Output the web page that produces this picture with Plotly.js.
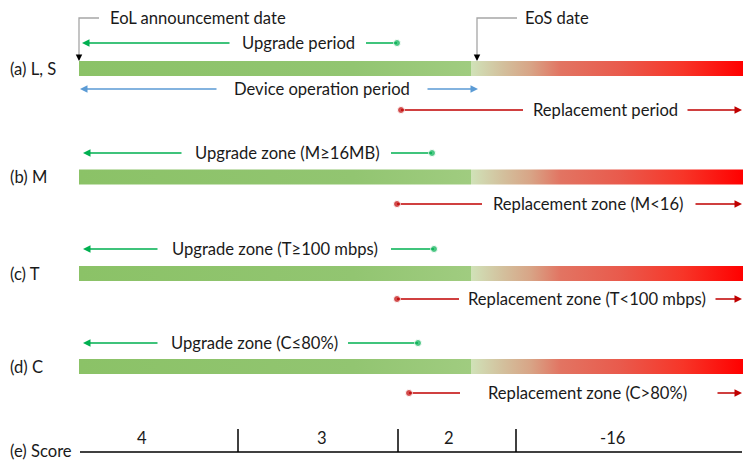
<!DOCTYPE html>
<html>
<head>
<meta charset="utf-8">
<script src="https://cdn.plot.ly/plotly-3.0.1.min.js"></script>
<style>html,body{margin:0;padding:0;background:#fff}#chart{width:756px;height:469px}</style>
</head>
<body>
<div id="chart"></div>
<script>
// ---- Data (timeline positions, in chart units) ----
const rowLabels = ['(a) L, S', '(b) M', '(c) T', '(d) C'];
const rowCenters = [68.5, 177, 273.5, 366.5];
const timelineStart = 79;   // EoL announcement date
const eosPoint = 471;       // EoS date
const timelineEnd = 743;

const upgradeLabels = ['Upgrade period', 'Upgrade zone (M≥16MB)', 'Upgrade zone (T≥100 mbps)', 'Upgrade zone (C≤80%)'];
const upgradeLevel = [43, 153, 249, 343];
const upgradeLeftTail = [231, 183, 159, 159];
const upgradeArrowTip = [82, 83, 83, 83];
const upgradeRightStart = [366, 391, 391, 348];
const upgradeDot = [397, 432, 434, 418];
const upgradeTextCenter = [298, 287, 275, 254.5];

const replaceLabels = ['Replacement period', 'Replacement zone (M<16)', 'Replacement zone (T<100 mbps)', 'Replacement zone (C>80%)'];
const replaceLevel = [110, 204, 299, 393];
const replaceDot = [401, 397, 397, 409];
const replaceLineEnd = [523, 482, 459, 460];
const replaceArrowTail = [686, 694, 714, 716];
const replaceArrowTip = [742, 742, 742, 742];
const replaceTextCenter = [605, 588, 586.5, 587.5];

const deviceLabel = 'Device operation period';
const deviceLevel = 89;
const deviceLeft = [218, 80];
const deviceRight = [426, 478];
const deviceTextCenter = 321.5;

const eolLabel = 'EoL announcement date';
const eosLabel = 'EoS date';
const calloutLevel = 18;

const scoreTitle = '(e) Score';
const scoreLabels = ['4', '3', '2', '-16'];
const scoreLabelPos = [142, 322, 449, 612];
const scoreBreaks = [238, 398, 516];
const scoreLine = [80, 742];
const scoreLevel = 452;
const scoreTickTop = 429;

// ---- Styles ----
const FONT = 'Lato, "Open Sans", sans-serif';
const TXT = '#1a1a1a';
const GREEN = '#00b050', BLUE = '#5b9bd5', RED = '#c00000', GRAY = '#a6a6a6';
const halfBar = 7.5;
const fontSize = 16.6;

const traces = [];
const annotations = [];

rowCenters.forEach((yc, i) => {
  const top = yc - halfBar, bot = yc + halfBar;
  traces.push({
    type: 'scatter', mode: 'lines', hoverinfo: 'skip', showlegend: false,
    x: [timelineStart, eosPoint, eosPoint, timelineStart, timelineStart],
    y: [top, top, bot, bot, top],
    fill: 'toself', line: {width: 0},
    fillgradient: {type: 'horizontal', colorscale: [[0, '#8bc267'], [0.7, '#92c571'], [1, '#a0cc80']]}
  });
  traces.push({
    type: 'scatter', mode: 'lines', hoverinfo: 'skip', showlegend: false,
    x: [eosPoint, timelineEnd, timelineEnd, eosPoint, eosPoint],
    y: [top, top, bot, bot, top],
    fill: 'toself', line: {width: 0},
    fillgradient: {type: 'horizontal', colorscale: [[0, '#d0e2b8'], [0.12, '#d3bf9c'], [0.22, '#d8a486'], [0.33, '#e27462'], [0.55, '#e95a4c'], [0.78, '#f73528'], [1, '#ff0000']]}
  });
  annotations.push({x: 8, y: yc, xref: 'x', yref: 'y', text: rowLabels[i], showarrow: false, xanchor: 'left', yanchor: 'middle', font: {family: FONT, size: fontSize, color: TXT}});

  // upgrade arrow
  annotations.push({x: upgradeArrowTip[i], y: upgradeLevel[i], ax: upgradeLeftTail[i], ay: upgradeLevel[i], xref: 'x', yref: 'y', axref: 'x', ayref: 'y', text: '', showarrow: true, arrowhead: 2, arrowsize: 1, arrowwidth: 1.5, arrowcolor: GREEN, standoff: 0});
  traces.push({type: 'scatter', mode: 'lines+markers', hoverinfo: 'skip', showlegend: false,
    x: [upgradeRightStart[i], upgradeDot[i]], y: [upgradeLevel[i], upgradeLevel[i]],
    line: {color: GREEN, width: 1.5}, marker: {color: GREEN, size: [0, 7]}});
  annotations.push({x: upgradeTextCenter[i], y: upgradeLevel[i], xref: 'x', yref: 'y', text: upgradeLabels[i], showarrow: false, xanchor: 'center', yanchor: 'middle', font: {family: FONT, size: fontSize, color: TXT}});

  // replacement arrow
  traces.push({type: 'scatter', mode: 'lines+markers', hoverinfo: 'skip', showlegend: false,
    x: [replaceDot[i], replaceLineEnd[i]], y: [replaceLevel[i], replaceLevel[i]],
    line: {color: RED, width: 1.5}, marker: {color: RED, size: [7, 0]}});
  annotations.push({x: replaceArrowTip[i], y: replaceLevel[i], ax: replaceArrowTail[i], ay: replaceLevel[i], xref: 'x', yref: 'y', axref: 'x', ayref: 'y', text: '', showarrow: true, arrowhead: 2, arrowsize: 1, arrowwidth: 1.5, arrowcolor: RED, standoff: 0});
  annotations.push({x: replaceTextCenter[i], y: replaceLevel[i], xref: 'x', yref: 'y', text: replaceLabels[i], showarrow: false, xanchor: 'center', yanchor: 'middle', font: {family: FONT, size: fontSize, color: TXT}});
});

// device operation arrows
annotations.push({x: deviceLeft[1], y: deviceLevel, ax: deviceLeft[0], ay: deviceLevel, xref: 'x', yref: 'y', axref: 'x', ayref: 'y', text: '', showarrow: true, arrowhead: 2, arrowsize: 1, arrowwidth: 1.5, arrowcolor: BLUE, standoff: 0});
annotations.push({x: deviceRight[1], y: deviceLevel, ax: deviceRight[0], ay: deviceLevel, xref: 'x', yref: 'y', axref: 'x', ayref: 'y', text: '', showarrow: true, arrowhead: 2, arrowsize: 1, arrowwidth: 1.5, arrowcolor: BLUE, standoff: 0});
annotations.push({x: deviceTextCenter, y: deviceLevel, xref: 'x', yref: 'y', text: deviceLabel, showarrow: false, xanchor: 'center', yanchor: 'middle', font: {family: FONT, size: fontSize, color: TXT}});

// callouts
const barTop = rowCenters[0] - halfBar;
[[timelineStart, 99, eolLabel, 108], [eosPoint + 6, 517, eosLabel, 523]].forEach(([xv, xh, lbl, xt]) => {
  traces.push({type: 'scatter', mode: 'lines', hoverinfo: 'skip', showlegend: false,
    x: [xh, xv, xv], y: [calloutLevel, calloutLevel, barTop - 6], line: {color: GRAY, width: 1.3}});
  annotations.push({x: xv, y: barTop, ax: xv, ay: barTop - 7, xref: 'x', yref: 'y', axref: 'x', ayref: 'y', text: '', showarrow: true, arrowhead: 2, arrowsize: 1, arrowwidth: 1.3, arrowcolor: '#000', standoff: 0});
  annotations.push({x: xt, y: calloutLevel, xref: 'x', yref: 'y', text: lbl, showarrow: false, xanchor: 'left', yanchor: 'middle', font: {family: FONT, size: fontSize, color: TXT}});
});

// score axis
traces.push({type: 'scatter', mode: 'lines', hoverinfo: 'skip', showlegend: false,
  x: scoreLine, y: [scoreLevel, scoreLevel], line: {color: '#000', width: 1.5}});
scoreBreaks.forEach(b => {
  traces.push({type: 'scatter', mode: 'lines', hoverinfo: 'skip', showlegend: false,
    x: [b, b], y: [scoreTickTop, scoreLevel], line: {color: '#000', width: 1.5}});
});
scoreLabels.forEach((s, i) => {
  annotations.push({x: scoreLabelPos[i], y: 438, xref: 'x', yref: 'y', text: s, showarrow: false, xanchor: 'center', yanchor: 'middle', font: {family: FONT, size: fontSize, color: TXT}});
});
annotations.push({x: 8, y: 451, xref: 'x', yref: 'y', text: scoreTitle, showarrow: false, xanchor: 'left', yanchor: 'middle', font: {family: FONT, size: fontSize, color: TXT}});

const layout = {
  width: 756, height: 469,
  margin: {l: 0, r: 0, t: 0, b: 0},
  paper_bgcolor: '#fff', plot_bgcolor: '#fff',
  xaxis: {range: [0, 756], visible: false, fixedrange: true},
  yaxis: {range: [469, 0], visible: false, fixedrange: true},
  showlegend: false,
  annotations: annotations
};
Plotly.newPlot('chart', traces, layout, {staticPlot: true, displayModeBar: false});
</script>
</body>
</html>
